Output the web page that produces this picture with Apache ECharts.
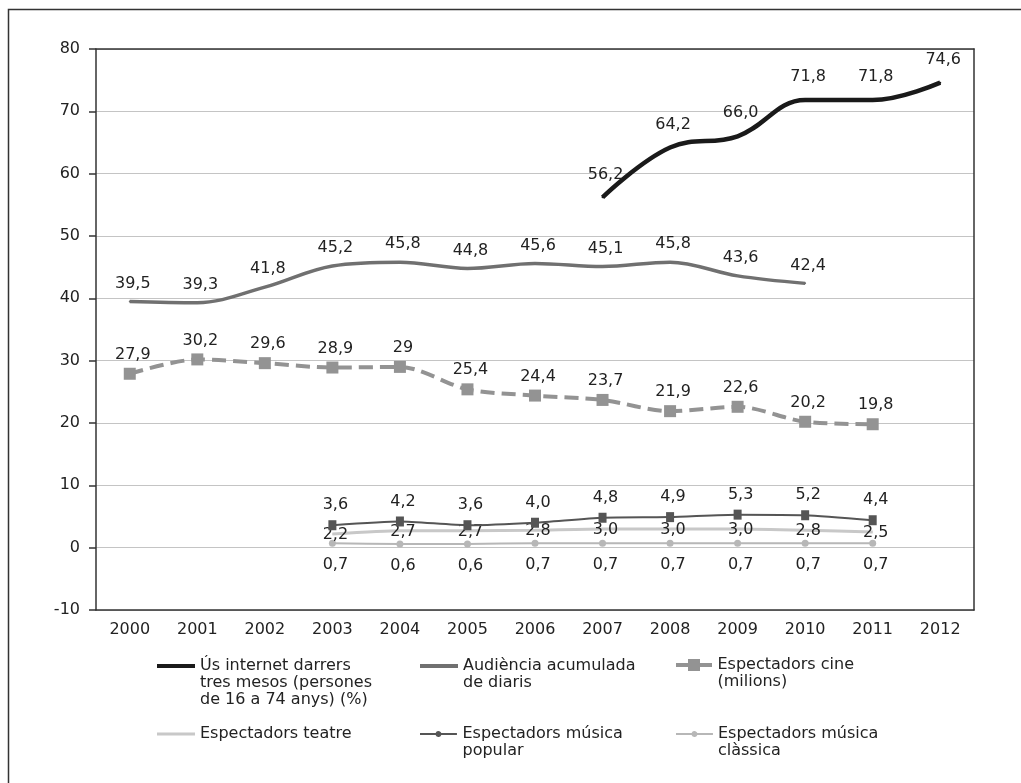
<!DOCTYPE html>
<html>
<head>
<meta charset="utf-8">
<script src="https://cdn.jsdelivr.net/npm/echarts@6/dist/echarts.min.js"></script>
<style>
html,body{margin:0;padding:0;background:#fff;}
#chart{width:1021px;height:783px;}
</style>
</head>
<body>
<div id="chart"></div>
<script>
// ---- Data ----
const years = ['2000','2001','2002','2003','2004','2005','2006','2007','2008','2009','2010','2011','2012'];
const internetUse = [null,null,null,null,null,null,null,56.2,64.2,66.0,71.8,71.8,74.6];
const newspaperAudience = [39.5,39.3,41.8,45.2,45.8,44.8,45.6,45.1,45.8,43.6,42.4,null,null];
const cinemaSpectators = [27.9,30.2,29.6,28.9,29,25.4,24.4,23.7,21.9,22.6,20.2,19.8,null];
const theatreSpectators = [null,null,null,2.2,2.7,2.7,2.8,3.0,3.0,3.0,2.8,2.5,null];
const popularMusicSpectators = [null,null,null,3.6,4.2,3.6,4.0,4.8,4.9,5.3,5.2,4.4,null];
const classicalMusicSpectators = [null,null,null,0.7,0.6,0.6,0.7,0.7,0.7,0.7,0.7,0.7,null];
const yTicks = {min:-10, max:80, interval:10};

const names = {
  internet: 'Ús internet darrers tres mesos (persones de 16 a 74 anys) (%)',
  diaris: 'Audiència acumulada de diaris',
  cine: 'Espectadors cine (milions)',
  teatre: 'Espectadors teatre',
  popular: 'Espectadors música popular',
  classica: 'Espectadors música clàssica'
};
const legendText = {};
legendText[names.internet] = '\n\nÚs internet darrers\ntres mesos (persones\nde 16 a 74 anys) (%)';
legendText[names.diaris] = '\nAudiència acumulada\nde diaris';
legendText[names.cine] = '\nEspectadors cine\n(milions)';
legendText[names.teatre] = 'Espectadors teatre';
legendText[names.popular] = '\nEspectadors música\npopular';
legendText[names.classica] = '\nEspectadors música\nclàssica';

const FONT = 'DejaVu Sans';
const fmt1 = p => p.value == null ? '' : p.value.toFixed(1).replace('.', ',');
const fmtRaw = p => p.value == null ? '' : String(p.value).replace('.', ',');
const labelBase = {show:true, color:'#222', fontFamily:FONT, fontSize:16, offset:[3,0]};

const chart = echarts.init(document.getElementById('chart'), null, {renderer:'canvas'});

function legendFor(name, left, centerY, lines, w, h, icon, lh) {
  lh = lh || 17;
  return {
    show:true, left:left, top:centerY - lines*lh/2, padding:0,
    orient:'horizontal', itemWidth:w, itemHeight:h, itemGap:0,
    selectedMode:false,
    data:[{name:name, icon:icon}],
    itemStyle:{borderWidth:0},
    formatter: n => legendText[n],
    textStyle:{color:'#222', fontFamily:FONT, fontSize:16, lineHeight:lh}
  };
}
const dotPath = 'path://M0,2H15.67A3,3 0 0 1 21.33,2H37V4H21.33A3,3 0 0 1 15.67,4H0Z';
const cinePath = 'path://M0,4H12V0H24V4H36V8H24V12H12V8H0Z';

const option = {
  animation:false,
  backgroundColor:'#fff',
  textStyle:{fontFamily:FONT},
  graphic:[{
    type:'rect', silent:true,
    shape:{x:8.5, y:9.5, width:1200, height:1000},
    style:{fill:'none', stroke:'#333', lineWidth:1.5}
  }],
  grid:{left:96, right:47, top:49, bottom:173, containLabel:false},
  legend:[
    legendFor(names.internet, 157, 666, 5, 38, 4, 'rect'),
    legendFor(names.diaris, 420, 666, 3, 38, 4, 'rect'),
    legendFor(names.cine, 676, 665, 3, 37, 12, cinePath),
    legendFor(names.teatre, 157, 734, 1, 38, 3, 'rect'),
    legendFor(names.popular, 420, 734, 3, 38, 6, dotPath),
    legendFor(names.classica, 676, 734, 3, 37, 6, dotPath)
  ],
  xAxis:[{
    type:'category', data:years, boundaryGap:true,
    axisLine:{show:true, onZero:false, lineStyle:{color:'#333', width:1.5}},
    axisTick:{show:false},
    axisLabel:{color:'#222', fontFamily:FONT, fontSize:16, margin:12},
    splitLine:{show:false}
  },{
    type:'category', data:years, position:'top', boundaryGap:true,
    axisLine:{show:true, onZero:false, lineStyle:{color:'#333', width:1.5}},
    axisTick:{show:false}, axisLabel:{show:false}, splitLine:{show:false}
  }],
  yAxis:[{
    type:'value', min:yTicks.min, max:yTicks.max, interval:yTicks.interval,
    axisLine:{show:true, onZero:false, lineStyle:{color:'#333', width:1.5}},
    axisTick:{show:true, inside:false, length:7, lineStyle:{color:'#333', width:1.5}},
    axisLabel:{color:'#222', fontFamily:FONT, fontSize:16, margin:16},
    splitLine:{show:true, lineStyle:{color:'#c4c4c4', width:1.2}}
  },{
    type:'value', min:yTicks.min, max:yTicks.max, interval:yTicks.interval, position:'right',
    axisLine:{show:true, onZero:false, lineStyle:{color:'#333', width:1.5}},
    axisTick:{show:false}, axisLabel:{show:false}, splitLine:{show:false}
  }],
  series:[
    {
      name:names.cine, type:'line', data:cinemaSpectators, smooth:0.3,
      symbol:'rect', symbolSize:12, showSymbol:true,
      itemStyle:{color:'#939393', borderWidth:0},
      lineStyle:{color:'#939393', width:4, type:[14,7]},
      label:Object.assign({}, labelBase, {position:'top', distance:5, formatter:fmtRaw}),
      emphasis:{disabled:true}, z:3
    },
    {
      name:names.diaris, type:'line', data:newspaperAudience, smooth:0.35,
      symbol:'circle', symbolSize:2, showSymbol:true,
      itemStyle:{color:'#707070', borderWidth:0},
      lineStyle:{color:'#707070', width:3.5},
      label:Object.assign({}, labelBase, {position:'top', distance:9, formatter:fmt1}),
      emphasis:{disabled:true}, z:3
    },
    {
      name:names.internet, type:'line', data:internetUse, smooth:0.4,
      symbol:'circle', symbolSize:2, showSymbol:true,
      itemStyle:{color:'#1a1a1a', borderWidth:0},
      lineStyle:{color:'#1a1a1a', width:4.5},
      label:Object.assign({}, labelBase, {position:'top', distance:14, formatter:fmt1}),
      emphasis:{disabled:true}, z:4
    },
    {
      name:names.teatre, type:'line', data:theatreSpectators, smooth:0.2,
      symbol:'circle', symbolSize:1, showSymbol:true,
      itemStyle:{color:'#c8c8c8', borderWidth:0},
      lineStyle:{color:'#c8c8c8', width:3},
      label:Object.assign({}, labelBase, {position:'inside', offset:[3,1], formatter:fmt1}),
      emphasis:{disabled:true}, z:3
    },
    {
      name:names.classica, type:'line', data:classicalMusicSpectators, smooth:0.2,
      symbol:'circle', symbolSize:7, showSymbol:true,
      itemStyle:{color:'#b7b7b7', borderWidth:0},
      lineStyle:{color:'#b7b7b7', width:2},
      label:Object.assign({}, labelBase, {position:'bottom', distance:10, formatter:fmt1}),
      emphasis:{disabled:true}, z:3
    },
    {
      name:names.popular, type:'line', data:popularMusicSpectators, smooth:0.2,
      symbol:'rect', symbolSize:[8,10], showSymbol:true,
      itemStyle:{color:'#555555', borderWidth:0},
      lineStyle:{color:'#555555', width:2},
      label:Object.assign({}, labelBase, {position:'top', distance:7, formatter:fmt1}),
      emphasis:{disabled:true}, z:4
    }
  ]
};
chart.setOption(option);
</script>
</body>
</html>
